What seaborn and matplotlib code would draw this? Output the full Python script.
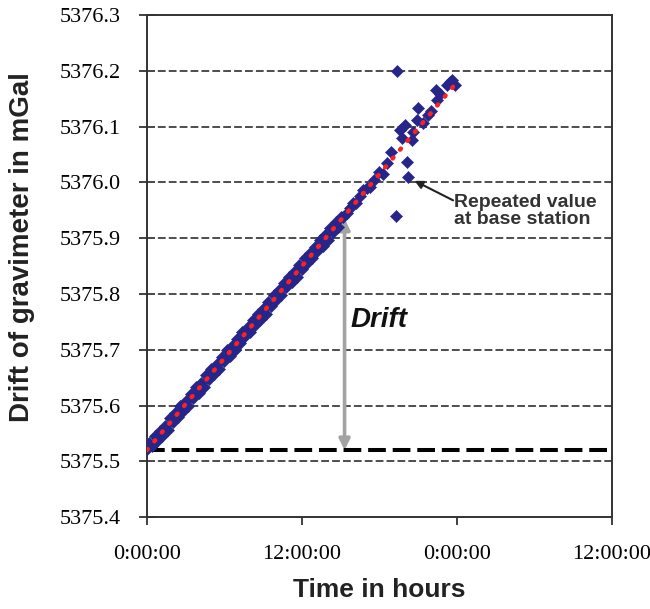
import matplotlib
matplotlib.use("Agg")
import matplotlib.pyplot as plt
import seaborn as sns
import pandas as pd

# Gravimeter readings: elapsed time (hours) and reading (mGal)
hours = [
    0.0, 0.2, 0.4, 0.6, 0.8, 1.0, 1.2, 1.4, 1.6, 1.8,
    2.0, 2.2, 2.4, 2.6, 2.8, 3.0, 3.2, 3.4, 3.6, 3.8,
    4.0, 4.2, 4.4, 4.6, 4.8, 5.0, 5.2, 5.4, 5.6, 5.8,
    6.0, 6.2, 6.4, 6.6, 6.8, 7.0, 7.2, 7.4, 7.6, 7.8,
    8.0, 8.2, 8.4, 8.6, 8.8, 9.0, 9.2, 9.4, 9.6, 9.8,
    10.0, 10.2, 10.4, 10.6, 10.8, 11.0, 11.2, 11.4, 11.6, 11.8,
    12.0, 12.2, 12.4, 12.6, 12.8, 13.0, 13.2, 13.4, 13.6, 13.8,
    14.0, 14.2, 14.4, 14.6, 14.8, 15.0, 15.2, 15.5, 15.7, 15.97,
    16.2, 16.5, 16.74, 17.0, 17.26, 17.6, 18.0, 18.29, 18.6, 18.89,
    19.25, 19.37, 19.63, 19.71, 19.97, 20.15, 20.22, 20.49, 20.61, 20.92,
    21.0, 21.39, 21.77, 22.0, 22.37, 22.42, 22.7, 23.2, 23.45, 23.6,
    23.84,
]
readings = [
    5375.522, 5375.532, 5375.527, 5375.545, 5375.536, 5375.555, 5375.546, 5375.564, 5375.556, 5375.578,
    5375.570, 5375.587, 5375.579, 5375.600, 5375.591, 5375.608, 5375.600, 5375.621, 5375.614, 5375.633,
    5375.623, 5375.641, 5375.633, 5375.654, 5375.647, 5375.666, 5375.657, 5375.675, 5375.666, 5375.687,
    5375.680, 5375.699, 5375.689, 5375.707, 5375.699, 5375.720, 5375.712, 5375.732, 5375.724, 5375.741,
    5375.732, 5375.753, 5375.745, 5375.765, 5375.755, 5375.773, 5375.765, 5375.786, 5375.779, 5375.798,
    5375.789, 5375.807, 5375.798, 5375.819, 5375.812, 5375.831, 5375.821, 5375.839, 5375.831, 5375.852,
    5375.844, 5375.864, 5375.856, 5375.873, 5375.864, 5375.885, 5375.877, 5375.897, 5375.887, 5375.905,
    5375.897, 5375.918, 5375.911, 5375.930, 5375.921, 5375.939, 5375.939, 5375.946, 5375.955, 5375.963,
    5375.963, 5375.975, 5375.986, 5375.990, 5375.992, 5376.004, 5376.018, 5376.016, 5376.035, 5376.055,
    5375.940, 5376.200, 5376.095, 5376.079, 5376.103, 5376.036, 5376.010, 5376.076, 5376.091, 5376.112,
    5376.134, 5376.106, 5376.121, 5376.128, 5376.166, 5376.148, 5376.158, 5376.175, 5376.180, 5376.184,
    5376.175,
]

# Linear drift trend and reference level at the base station
trend_hours = [0.0, 24.0]
trend_values = [5375.52, 5376.18]
base_level = 5375.52
drift_hour = 15.3
drift_top = 5375.935

x_ticks = [0, 12, 24, 36]
x_tick_labels = ["0:00:00", "12:00:00", "0:00:00", "12:00:00"]
y_ticks = [5375.4, 5375.5, 5375.6, 5375.7, 5375.8, 5375.9, 5376.0, 5376.1, 5376.2, 5376.3]

sns.set_style("white")
plt.rcParams["font.family"] = ["Liberation Sans", "DejaVu Sans"]

fig = plt.figure(figsize=(6.5, 6.09), dpi=100)
ax = fig.add_axes([0.226, 0.151, 0.7155, 0.824])

df = pd.DataFrame({"hours": hours, "reading": readings})
trend = pd.DataFrame({"hours": trend_hours, "reading": trend_values})

# horizontal dashed grid
for yv in y_ticks[1:-1]:
    ax.axhline(yv, color="#4d4d4d", lw=1.4, ls=(0, (4.0, 1.6)), zorder=1)

ax.axhline(base_level, color="black", lw=2.9, ls=(0, (4.4, 1.7)), zorder=2)

sns.scatterplot(data=df, x="hours", y="reading", ax=ax, marker="D", s=38,
                color="#26268a", edgecolor="#26268a", linewidth=0.4, zorder=3)
sns.lineplot(data=trend, x="hours", y="reading", ax=ax, color="#ff2020",
             lw=3.2, ls=(0, (0.3, 2.3)), zorder=4)
ax.lines[-1].set_dash_capstyle("round")

ax.annotate("", xy=(drift_hour, base_level), xytext=(drift_hour, drift_top),
            arrowprops=dict(arrowstyle="<|-|>", color="#a3a3a3", lw=2.6,
                            mutation_scale=16, shrinkA=0, shrinkB=0),
            zorder=2)
ax.text(15.75, 5375.753, "Drift", fontsize=20, fontweight="bold",
        fontstyle="italic", va="center", ha="left", color="#111111")

# note about the repeated base-station reading
ax.annotate("", xy=(20.72, 5376.003), xytext=(23.7, 5375.968),
            arrowprops=dict(arrowstyle="-|>", color="#222222", lw=1.5,
                            mutation_scale=12, shrinkA=0, shrinkB=0))
ax.text(23.8, 5375.949, "Repeated value\nat base station", fontsize=14,
        fontweight="bold", color="#333333", ha="left", va="center",
        linespacing=1.05)

ax.set_xlim(0, 36)
ax.set_ylim(5375.4, 5376.3)
ax.set_xticks(x_ticks)
ax.set_xticklabels(x_tick_labels)
ax.set_yticks(y_ticks)
ax.set_yticklabels([f"{v:.1f}" for v in y_ticks])

for lab in ax.get_xticklabels() + ax.get_yticklabels():
    lab.set_family(["Liberation Serif", "DejaVu Serif"])
    lab.set_fontsize(16)
    lab.set_color("black")

ax.tick_params(axis="y", direction="inout", length=12, width=1.3, color="#333333", pad=13)
ax.tick_params(axis="x", direction="out", length=6, width=1.3, color="#333333", pad=14)
ax.tick_params(left=True, bottom=True)

for sp in ax.spines.values():
    sp.set_visible(True)
    sp.set_color("#333333")
    sp.set_linewidth(1.4)

ax.set_xlabel("Time in hours", fontsize=19, fontweight="bold", color="#222222")
ax.set_ylabel("Drift of gravimeter in mGal", fontsize=20, fontweight="bold",
              color="#222222")
ax.xaxis.set_label_coords(0.5, -0.122)
ax.yaxis.set_label_coords(-0.241, 0.538)

fig.savefig("out.png", dpi=100, facecolor="white")
